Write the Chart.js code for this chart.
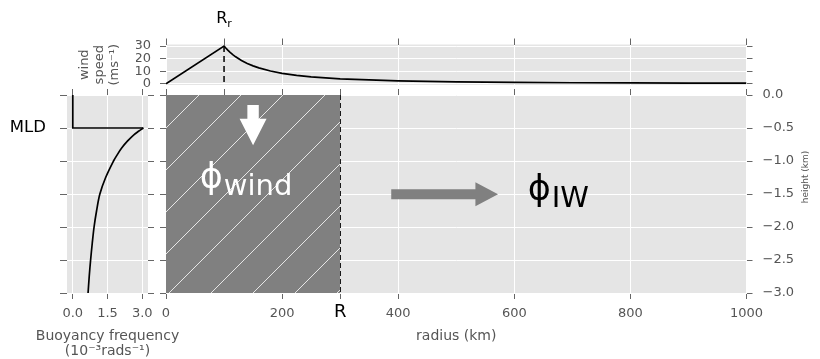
<!DOCTYPE html>
<html><head><meta charset="utf-8">
<script src="https://cdn.jsdelivr.net/npm/chart.js@4.4.0/dist/chart.umd.min.js"></script>
<style>
html,body{margin:0;padding:0;background:#fff;}
#wrap{position:relative;width:820px;height:359px;overflow:hidden;background:#fff;}
canvas{position:absolute;left:0;top:0;}
</style></head><body>
<div id="wrap">
<canvas id="cMain" width="820" height="359"></canvas>
<canvas id="cWind" width="820" height="359"></canvas>
<canvas id="cBuoy" width="820" height="359"></canvas>
</div>
<script>
// ---------------- data ----------------
const windRadius = [0, 100, 103, 106, 110, 115, 120, 130, 140, 150, 160, 180, 200, 225, 250, 300, 350, 400, 500, 600, 700, 800, 900, 1000];
const windSpeed  = [0, 30, 28.4, 26.9, 25.1, 23.2, 21.4, 18.5, 16.1, 14.2, 12.6, 10.1, 8.3, 6.7, 5.5, 3.9, 3.0, 2.3, 1.5, 1.1, 0.8, 0.64, 0.5, 0.42];
const rrLineR = [100, 100];
const rrLineV = [30, -1];

// mixed layer (step) and thermocline decay of buoyancy frequency
const mixedDepth = [0, -0.5, -0.5];
const mixedFreq  = [0, 0, 3.05];
const buoyDepth = [-0.5, -0.55, -0.6, -0.7, -0.8, -0.9, -1.0, -1.25, -1.5, -1.75, -2.0, -2.25, -2.5, -2.75, -3.0];
const buoyFreq  = [3.05, 2.84, 2.65, 2.36, 2.12, 1.93, 1.76, 1.42, 1.17, 1.03, 0.92, 0.84, 0.77, 0.71, 0.66];

const forcingR = [0, 300];
const forcingZ = [0, 0];
const forcingBase = -3;
const rLineR = [300, 300];
const rLineZ = [0, -3];

// tick arrays
const mainXTicks = [0, 200, 300, 400, 600, 800, 1000];
const mainXLabels = ['0', '200', 'R', '400', '600', '800', '1000'];
const mainXTopTicks = [0, 100, 200, 300, 400, 600, 800, 1000];
const mainYTicks = [0, -0.5, -1, -1.5, -2, -2.5, -3];
const mainYLabels = ['0.0', '\u22120.5', '\u22121.0', '\u22121.5', '\u22122.0', '\u22122.5', '\u22123.0'];
const windYTicks = [0, 10, 20, 30];
const windYLabels = ['0', '10', '20', '30'];
const windXTopTicks = [0, 100, 200, 400, 600, 800, 1000];
const windXGrid = [0, 200, 400, 600, 800, 1000];
const buoyXTicks = [0, 1.5, 3];
const buoyXLabels = ['0.0', '1.5', '3.0'];
const buoyYTicks = [0, -0.5, -1, -1.5, -2, -2.5, -3];
const buoyYLabels = ['', 'MLD', '', '', '', '', ''];

// annotation anchors (data coordinates)
const downArrow = {x: 150, top: -0.15, head: -0.36, tip: -0.76};
const sideArrow = {y: -1.505, x0: 388, xHead: 533, xTip: 572};
const phiWindAnchor = {x: 58, y: -1.515};
const phiIWAnchor = {x: 623, y: -1.697};

// ---------------- helpers ----------------
const FAM = 'DejaVu Sans';
const TICKC = '#666';
const LABC = '#555';
function fixedSize(size) { return function (s) { if (s.isHorizontal()) s.height = size; else s.width = size; }; }
function setTicks(values) { return function (s) { s.ticks = values.map(v => ({value: v})); }; }
function pts(xs, ys) { return xs.map((x, i) => ({x: x, y: ys[i]})); }
function marksOnly(pos, axis, min, max, ticks, size, tl) {
  return {type: 'linear', axis: axis, position: pos, min: min, max: max,
    afterBuildTicks: setTicks(ticks), afterFit: fixedSize(size),
    grid: {drawOnChartArea: false, tickColor: TICKC, tickLength: tl || 6, lineWidth: 1},
    border: {display: false}, ticks: {display: false}};
}
const bgPlugin = {id: 'bg', beforeDraw(chart) {
  const {ctx, chartArea: a} = chart;
  ctx.save(); ctx.fillStyle = '#E5E5E5';
  ctx.fillRect(a.left, a.top, a.right - a.left, a.bottom - a.top);
  ctx.restore();
}};
function hatch() {
  const s = 42, c = document.createElement('canvas');
  c.width = s; c.height = s;
  const g = c.getContext('2d');
  g.fillStyle = '#808080'; g.fillRect(0, 0, s, s);
  g.strokeStyle = 'rgba(255,255,255,0.8)'; g.lineWidth = 1;
  g.beginPath();
  g.moveTo(0, s); g.lineTo(s, 0);
  g.moveTo(-2, 2); g.lineTo(2, -2);
  g.moveTo(s - 2, s + 2); g.lineTo(s + 2, s - 2);
  g.stroke();
  return g.createPattern(c, 'repeat');
}
const common = {responsive: false, animation: false, devicePixelRatio: 1,
  plugins: {legend: {display: false}, tooltip: {enabled: false}}, events: []};

function drawPhi(ctx, x, subBase, sub, color) {
  ctx.save();
  ctx.fillStyle = color; ctx.textBaseline = 'alphabetic'; ctx.textAlign = 'left';
  ctx.font = '35px "' + FAM + '"';
  ctx.fillText('\u03D5', x, subBase - 7);
  const w = ctx.measureText('\u03D5').width;
  ctx.font = '29px "' + FAM + '"';
  ctx.fillText(sub, x + w + 1, subBase);
  ctx.restore();
}

// ---------------- main panel ----------------
const mainText = {id: 'mainText', afterDatasetsDraw(chart) {
  const {ctx, chartArea: a} = chart;
  const xs = chart.scales.x, ys = chart.scales.y;
  ctx.save();
  let cx = xs.getPixelForValue(downArrow.x);
  let yT = ys.getPixelForValue(downArrow.top), yH = ys.getPixelForValue(downArrow.head), yP = ys.getPixelForValue(downArrow.tip);
  ctx.fillStyle = '#fff';
  ctx.beginPath();
  ctx.moveTo(cx - 5.7, yT); ctx.lineTo(cx + 5.7, yT); ctx.lineTo(cx + 5.7, yH); ctx.lineTo(cx + 13.5, yH);
  ctx.lineTo(cx, yP); ctx.lineTo(cx - 13.5, yH); ctx.lineTo(cx - 5.7, yH); ctx.closePath(); ctx.fill();
  const y = ys.getPixelForValue(sideArrow.y);
  const x0 = xs.getPixelForValue(sideArrow.x0), xh = xs.getPixelForValue(sideArrow.xHead), xt = xs.getPixelForValue(sideArrow.xTip);
  ctx.fillStyle = '#808080';
  ctx.beginPath();
  ctx.moveTo(x0, y - 5); ctx.lineTo(xh, y - 5); ctx.lineTo(xh, y - 12); ctx.lineTo(xt, y);
  ctx.lineTo(xh, y + 12); ctx.lineTo(xh, y + 5); ctx.lineTo(x0, y + 5); ctx.closePath(); ctx.fill();
  ctx.restore();
  drawPhi(ctx, xs.getPixelForValue(phiWindAnchor.x), ys.getPixelForValue(phiWindAnchor.y), 'wind', '#fff');
  drawPhi(ctx, xs.getPixelForValue(phiIWAnchor.x), ys.getPixelForValue(phiIWAnchor.y), 'IW', '#000');
  ctx.save();
  ctx.fillStyle = LABC; ctx.textAlign = 'center'; ctx.textBaseline = 'alphabetic';
  ctx.font = '14px "' + FAM + '"';
  ctx.fillText('radius (km)', (a.left + a.right) / 2, a.bottom + 47);
  ctx.translate(a.right + 61, a.top + 82);
  ctx.rotate(-Math.PI / 2);
  ctx.font = '9px "' + FAM + '"';
  ctx.fillText('height (km)', 0, 0);
  ctx.restore();
}};

new Chart(document.getElementById('cMain'), {
  type: 'line',
  data: {datasets: [
    {data: pts(forcingR, forcingZ), fill: {value: forcingBase}, backgroundColor: hatch(), borderWidth: 0, pointRadius: 0, xAxisID: 'x', yAxisID: 'y'},
    {data: pts(rLineR, rLineZ), fill: false, borderColor: '#000', borderWidth: 1.5, borderDash: [5, 3], pointRadius: 0, xAxisID: 'x', yAxisID: 'y'}
  ]},
  options: Object.assign({}, common, {
    layout: {padding: {left: 160, right: 19.5, top: 89, bottom: 36}},
    scales: {
      x: {type: 'linear', axis: 'x', position: 'bottom', min: 0, max: 1000,
        afterBuildTicks: setTicks(mainXTicks), afterFit: fixedSize(30),
        grid: {color: c => (c.tick && c.tick.value === 300) ? 'rgba(0,0,0,0)' : '#fff', lineWidth: 1, tickColor: TICKC, tickLength: 6},
        border: {display: false},
        ticks: {autoSkip: false, maxRotation: 0, padding: 7,
          color: c => mainXLabels[c.index] === 'R' ? '#000' : LABC,
          font: c => mainXLabels[c.index] === 'R' ? {family: FAM, size: 18, lineHeight: 0.65} : {family: FAM, size: 13},
          callback: (v, i) => mainXLabels[i]}},
      x2: marksOnly('top', 'x', 0, 1000, mainXTopTicks, 6),
      y: {type: 'linear', axis: 'y', position: 'right', min: -3, max: 0,
        afterBuildTicks: setTicks(mainYTicks), afterFit: fixedSize(54),
        grid: {color: '#fff', lineWidth: 1, tickColor: TICKC, tickLength: 6},
        border: {display: false},
        ticks: {autoSkip: false, padding: 10, color: LABC, font: {family: FAM, size: 13}, callback: (v, i) => mainYLabels[i]}},
      y2: marksOnly('left', 'y', -3, 0, mainYTicks, 6)
    }
  }),
  plugins: [bgPlugin, mainText]
});

// ---------------- wind panel ----------------
const windText = {id: 'windText', afterDraw(chart) {
  const {ctx, chartArea: a} = chart;
  const xs = chart.scales.x;
  ctx.save();
  ctx.fillStyle = '#000'; ctx.textBaseline = 'alphabetic'; ctx.textAlign = 'left';
  ctx.font = '16px "' + FAM + '"';
  const wR = ctx.measureText('R').width;
  ctx.font = '11px "' + FAM + '"';
  const wr = ctx.measureText('r').width;
  const cx = xs.getPixelForValue(100);
  const sx = cx - (wR + wr) / 2;
  ctx.font = '16px "' + FAM + '"';
  ctx.fillText('R', sx, a.top - 21.5);
  ctx.font = '11px "' + FAM + '"';
  ctx.fillText('r', sx + wR, a.top - 17.5);
  ctx.fillStyle = LABC; ctx.textAlign = 'center';
  ctx.font = '13px "' + FAM + '"';
  const cy = (a.top + a.bottom) / 2;
  const lines = ['wind', 'speed', '(ms\u207B\u00B9)'];
  const offs = [78, 63, 48];
  lines.forEach((t, i) => {
    ctx.save();
    ctx.translate(a.left - offs[i], cy);
    ctx.rotate(-Math.PI / 2);
    ctx.fillText(t, 0, 0);
    ctx.restore();
  });
  ctx.restore();
}};

new Chart(document.getElementById('cWind'), {
  type: 'line',
  data: {datasets: [
    {data: pts(windRadius, windSpeed), fill: false, borderColor: '#000', borderWidth: 1.7, pointRadius: 0, tension: 0, xAxisID: 'x', yAxisID: 'y'},
    {data: pts(rrLineR, rrLineV), fill: false, borderColor: '#000', borderWidth: 1.5, borderDash: [6, 4], pointRadius: 0, xAxisID: 'x', yAxisID: 'y'}
  ]},
  options: Object.assign({}, common, {
    layout: {padding: {left: 136, right: 67.5, top: 38.5, bottom: 274}},
    scales: {
      x: {type: 'linear', axis: 'x', position: 'bottom', min: 0, max: 1000,
        afterBuildTicks: setTicks(windXGrid), afterFit: fixedSize(0),
        grid: {color: '#fff', lineWidth: 1, drawTicks: false},
        border: {display: false}, ticks: {display: false}},
      x2: marksOnly('top', 'x', 0, 1000, windXTopTicks, 6),
      y: {type: 'linear', axis: 'y', position: 'left', min: -1, max: 31.2,
        afterBuildTicks: setTicks(windYTicks), afterFit: fixedSize(30),
        grid: {color: '#fff', lineWidth: 1, tickColor: TICKC, tickLength: 6},
        border: {display: false},
        ticks: {autoSkip: false, padding: 9, color: LABC, font: {family: FAM, size: 13}, callback: (v, i) => windYLabels[i]}},
      y2: marksOnly('right', 'y', -1, 31.2, windYTicks, 6)
    }
  }),
  plugins: [bgPlugin, windText]
});

// ---------------- buoyancy panel ----------------
const buoyText = {id: 'buoyText', afterDraw(chart) {
  const {ctx, chartArea: a} = chart;
  ctx.save();
  ctx.fillStyle = LABC; ctx.textAlign = 'center'; ctx.textBaseline = 'alphabetic';
  ctx.font = '14px "' + FAM + '"';
  const cx = (a.left + a.right) / 2;
  ctx.fillText('Buoyancy frequency', cx, a.bottom + 47);
  ctx.fillText('(10\u207B\u00B3rads\u207B\u00B9)', cx, a.bottom + 62);
  ctx.restore();
}};

new Chart(document.getElementById('cBuoy'), {
  type: 'line',
  data: {datasets: [
    {data: pts(mixedFreq, mixedDepth), fill: false, borderColor: '#000', borderWidth: 1.7, pointRadius: 0, tension: 0, xAxisID: 'x', yAxisID: 'y'},
    {data: pts(buoyFreq, buoyDepth), fill: false, borderColor: '#000', borderWidth: 1.7, pointRadius: 0, tension: 0.35, xAxisID: 'x', yAxisID: 'y'}
  ]},
  options: Object.assign({}, common, {
    layout: {padding: {left: 7, right: 666, top: 89, bottom: 36}},
    scales: {
      x: {type: 'linear', axis: 'x', position: 'bottom', min: -0.25, max: 3.25,
        afterBuildTicks: setTicks(buoyXTicks), afterFit: fixedSize(30),
        grid: {color: '#fff', lineWidth: 1, tickColor: TICKC, tickLength: 6},
        border: {display: false},
        ticks: {autoSkip: false, maxRotation: 0, padding: 7, color: LABC, font: {family: FAM, size: 13}, callback: (v, i) => buoyXLabels[i]}},
      x2: marksOnly('top', 'x', -0.25, 3.25, buoyXTicks, 6),
      y: {type: 'linear', axis: 'y', position: 'left', min: -3, max: 0,
        afterBuildTicks: setTicks(buoyYTicks), afterFit: fixedSize(60),
        grid: {color: '#fff', lineWidth: 1, tickColor: TICKC, tickLength: 7},
        border: {display: false},
        ticks: {autoSkip: false, padding: 14, color: '#000', font: {family: FAM, size: 16.5}, callback: (v, i) => buoyYLabels[i]}},
      y2: marksOnly('right', 'y', -3, 0, buoyYTicks, 6)
    }
  }),
  plugins: [bgPlugin, buoyText]
});
</script>
</body></html>
